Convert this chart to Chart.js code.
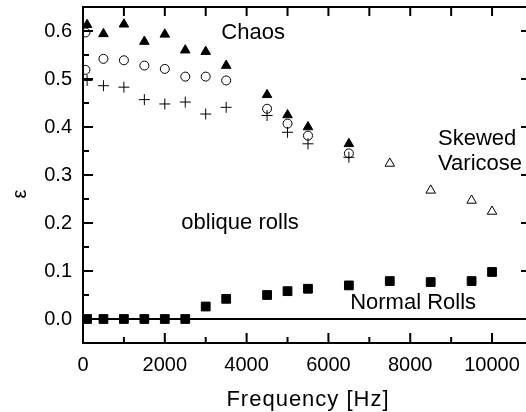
<!DOCTYPE html>
<html>
<head>
<meta charset="utf-8">
<script src="https://cdn.jsdelivr.net/npm/chart.js@4/dist/chart.umd.min.js"></script>
<style>
html,body{margin:0;padding:0;background:#fff;}
canvas{display:block;}
</style>
</head>
<body>
<canvas id="c" width="526" height="412"></canvas>
<script>
// ---- data ----
const chaosFreq = [100, 500, 1000, 1500, 2000, 2500, 3000, 3500, 4500, 5000, 5500, 6500];
const chaosEps  = [0.613, 0.594, 0.614, 0.578, 0.593, 0.560, 0.557, 0.528, 0.467, 0.425, 0.400, 0.365];

const circleFreq = [60, 60, 500, 1000, 1500, 2000, 2500, 3000, 3500, 4500, 5000, 5500, 6500];
const circleEps  = [0.597, 0.519, 0.542, 0.539, 0.528, 0.521, 0.505, 0.505, 0.497, 0.438, 0.407, 0.382, 0.345];

const plusFreq = [100, 500, 1000, 1500, 2000, 2500, 3000, 3500, 4500, 5000, 5500, 6500];
const plusEps  = [0.497, 0.486, 0.483, 0.457, 0.448, 0.452, 0.427, 0.441, 0.424, 0.389, 0.365, 0.337];

const varicoseFreq = [7500, 8500, 9500, 10000];
const varicoseEps  = [0.324, 0.268, 0.247, 0.224];

const normalFreq = [100, 500, 1000, 1500, 2000, 2500, 3000, 3500, 4500, 5000, 5500, 6500, 7500, 8500, 9500, 10000];
const normalEps  = [0, 0, 0, 0, 0, 0, 0.026, 0.042, 0.050, 0.058, 0.063, 0.070, 0.079, 0.077, 0.079, 0.098];

const xTicks = [0, 2000, 4000, 6000, 8000, 10000];
const xMinorTicks = [1000, 3000, 5000, 7000, 9000];
const yTicks = [0.0, 0.1, 0.2, 0.3, 0.4, 0.5, 0.6];
const yMinorTicks = [-0.05, 0.05, 0.15, 0.25, 0.35, 0.45, 0.55];

const labels = [
  {text: 'Chaos', x: 4160, y: 0.597, align: 'center'},
  {text: 'Skewed', x: 8680, y: 0.376, align: 'left'},
  {text: 'Varicose', x: 8680, y: 0.324, align: 'left'},
  {text: 'oblique rolls', x: 3840, y: 0.201, align: 'center'},
  {text: 'Normal Rolls', x: 8070, y: 0.034, align: 'center'}
];

const FONT = "'Liberation Sans', Arial, Helvetica, sans-serif";

function pts(xs, ys) { return xs.map((x, i) => ({x: x, y: ys[i]})); }

const framePlugin = {
  id: 'frame',
  beforeDatasetsDraw(chart) {
    const {ctx, chartArea: a, scales: {x, y}} = chart;
    ctx.save();
    ctx.strokeStyle = '#000';
    ctx.lineWidth = 2;
    ctx.lineCap = 'butt';
    // frame
    ctx.beginPath();
    ctx.moveTo(a.left, a.top); ctx.lineTo(a.right + 2, a.top);
    ctx.moveTo(a.left, a.top - 1); ctx.lineTo(a.left, a.bottom + 1);
    ctx.moveTo(a.left - 1, a.bottom); ctx.lineTo(a.right + 2, a.bottom);
    ctx.stroke();
    // zero line
    const y0 = y.getPixelForValue(0);
    ctx.beginPath();
    ctx.moveTo(a.left, y0); ctx.lineTo(a.right + 2, y0);
    ctx.stroke();
    // ticks
    ctx.beginPath();
    xTicks.forEach(v => {
      const px = x.getPixelForValue(v);
      ctx.moveTo(px, a.bottom); ctx.lineTo(px, a.bottom - 10);
      ctx.moveTo(px, a.top); ctx.lineTo(px, a.top + 9);
    });
    xMinorTicks.forEach(v => {
      const px = x.getPixelForValue(v);
      ctx.moveTo(px, a.bottom); ctx.lineTo(px, a.bottom - 6);
      ctx.moveTo(px, a.top); ctx.lineTo(px, a.top + 9);
    });
    yTicks.forEach(v => {
      const py = y.getPixelForValue(v);
      ctx.moveTo(a.left, py); ctx.lineTo(a.left + 10, py);
      ctx.moveTo(a.right, py); ctx.lineTo(a.right - 5, py);
    });
    yMinorTicks.forEach(v => {
      const py = y.getPixelForValue(v);
      ctx.moveTo(a.left, py); ctx.lineTo(a.left + 6, py);
    });
    ctx.stroke();
    ctx.restore();
  },
  afterDraw(chart) {
    const {ctx, scales: {x, y}} = chart;
    ctx.save();
    ctx.fillStyle = '#000';
    ctx.textBaseline = 'middle';
    ctx.font = '22px ' + FONT;
    labels.forEach(l => {
      ctx.textAlign = l.align;
      ctx.fillText(l.text, x.getPixelForValue(l.x), y.getPixelForValue(l.y));
    });
    // axis titles
    ctx.textAlign = 'center';
    ctx.font = '22px ' + FONT;
    try { ctx.letterSpacing = '1px'; } catch (e) {}
    ctx.fillText('Frequency [Hz]', 308, 400);
    try { ctx.letterSpacing = '0px'; } catch (e) {}
    ctx.save();
    ctx.translate(20, 194);
    ctx.rotate(-Math.PI / 2);
    ctx.font = '20px ' + FONT;
    ctx.fillText('ε', 0, 0);
    ctx.restore();
    ctx.restore();
  }
};

new Chart(document.getElementById('c'), {
  type: 'scatter',
  data: {
    datasets: [
      {label: 'Chaos', data: pts(chaosFreq, chaosEps), pointStyle: 'triangle', pointRadius: 5.5,
       backgroundColor: '#000', borderColor: '#000', borderWidth: 1},
      {label: 'circles', data: pts(circleFreq, circleEps), pointStyle: 'circle', pointRadius: 4.5,
       backgroundColor: 'rgba(0,0,0,0)', borderColor: '#000', borderWidth: 1},
      {label: 'plus', data: pts(plusFreq, plusEps), pointStyle: 'cross', pointRadius: 5.5,
       backgroundColor: '#000', borderColor: '#000', borderWidth: 1},
      {label: 'Skewed Varicose', data: pts(varicoseFreq, varicoseEps), pointStyle: 'triangle', pointRadius: 5.5,
       backgroundColor: 'rgba(0,0,0,0)', borderColor: '#000', borderWidth: 1},
      {label: 'Normal Rolls', data: pts(normalFreq, normalEps), pointStyle: 'rect', pointRadius: 6.2,
       backgroundColor: '#000', borderColor: '#000', borderWidth: 1}
    ]
  },
  options: {
    responsive: false,
    animation: false,
    devicePixelRatio: 1,
    layout: {autoPadding: false, padding: {top: 7, right: 0, left: 0, bottom: 0}},
    plugins: {legend: {display: false}, tooltip: {enabled: false}},
    scales: {
      x: {
        type: 'linear', min: 0, max: 10830,
        afterBuildTicks: s => { s.ticks = xTicks.map(v => ({value: v})); },
        afterFit: s => { s.height = 69; s.paddingLeft = 0; s.paddingRight = 0; },
        grid: {display: false, drawTicks: false},
        border: {display: false},
        ticks: {color: '#000', font: {family: FONT, size: 20}, padding: 10, maxRotation: 0, autoSkip: false,
                callback: v => String(v)}
      },
      y: {
        type: 'linear', min: -0.05, max: 0.65,
        afterBuildTicks: s => { s.ticks = yTicks.map(v => ({value: v})); },
        afterFit: s => { s.width = 83; s.paddingTop = 0; s.paddingBottom = 0; },
        grid: {display: false, drawTicks: false},
        border: {display: false},
        ticks: {color: '#000', font: {family: FONT, size: 20}, padding: 11, autoSkip: false,
                callback: v => Number(v).toFixed(1)}
      }
    }
  },
  plugins: [framePlugin]
});
</script>
</body>
</html>
